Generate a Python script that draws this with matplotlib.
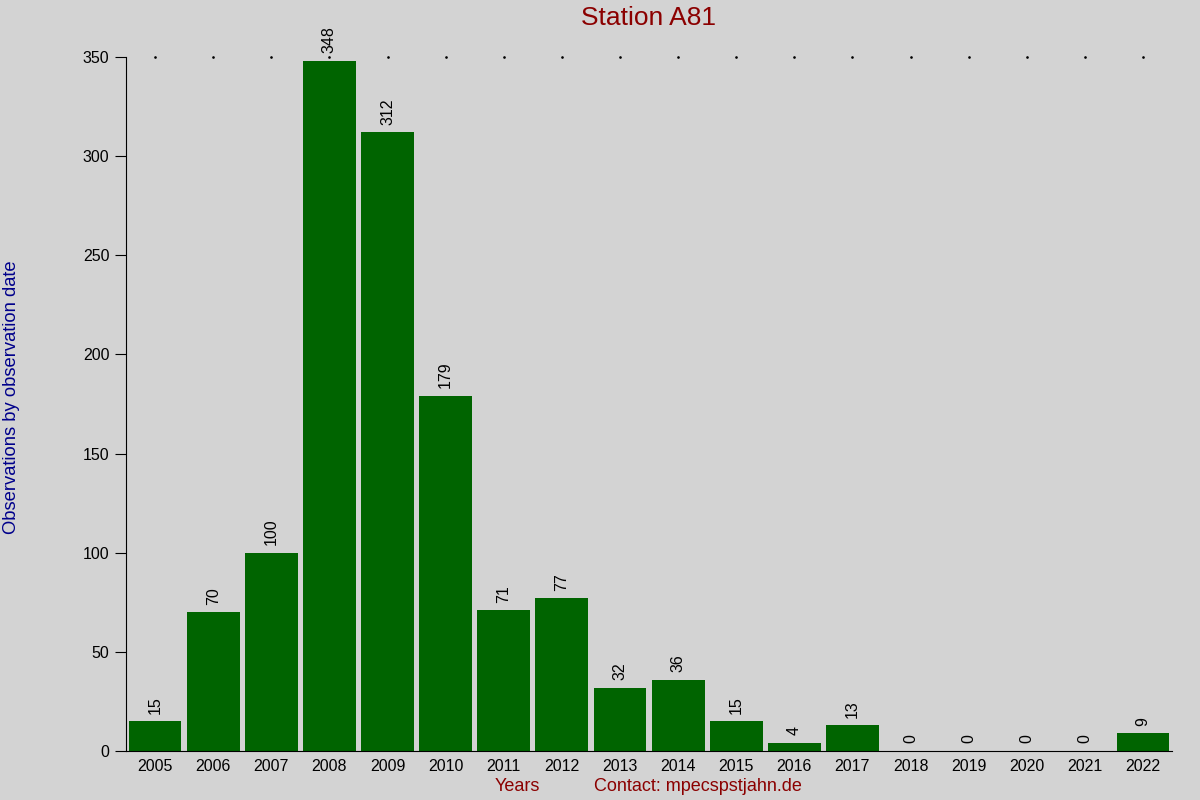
import matplotlib
matplotlib.use("Agg")
import matplotlib.pyplot as plt
import numpy as np

years = ["2005", "2006", "2007", "2008", "2009", "2010", "2011", "2012", "2013",
         "2014", "2015", "2016", "2017", "2018", "2019", "2020", "2021", "2022"]
counts = [15, 70, 100, 348, 312, 179, 71, 77, 32, 36, 15, 4, 13, 0, 0, 0, 0, 9]
y_ticks = [0, 50, 100, 150, 200, 250, 300, 350]

plt.rcParams['font.family'] = ['Liberation Sans', 'DejaVu Sans']

fig = plt.figure(figsize=(12, 8), dpi=100, facecolor='#d3d3d3')
ax = fig.add_axes([0.105, 0.06125, 0.8717, 0.8675])
ax.set_facecolor('#d3d3d3')

x = np.arange(len(years))
ax.bar(x, counts, width=0.91, color='#006400')

# value labels, rotated
for xi, v in zip(x, counts):
    ax.annotate(str(v), (xi, v), xytext=(0, 5.5), textcoords='offset points',
                rotation=90, ha='center', va='bottom', fontsize=11.5)

# little dots along the top
ax.scatter(x, [350] * len(x), s=0.8, color='black', clip_on=False, zorder=3)

ax.set_xlim(-0.5, len(years) - 0.5)
ax.set_ylim(0, 350)
ax.set_xticks(x)
ax.set_xticklabels(years, fontsize=11.5)
ax.set_yticks(y_ticks)
ax.tick_params(axis='y', labelsize=11.5, length=8, direction='out', pad=4)
ax.tick_params(axis='x', length=0, pad=6)

for s in ['top', 'right']:
    ax.spines[s].set_visible(False)

fig.text(0.5408, 0.977, "Station A81", color='#8b0000', fontsize=19,
         ha='center', va='center')
fig.text(0.431, 0.017, "Years", color='#8b0000', fontsize=13,
         ha='center', va='center')
fig.text(0.582, 0.017, "Contact: mpecspstjahn.de", color='#8b0000', fontsize=13,
         ha='center', va='center')
fig.text(0.0095, 0.503, "Observations by observation date", color='#00008b',
         fontsize=13.2, rotation=90, ha='center', va='center')

fig.savefig("out.png", dpi=100, facecolor=fig.get_facecolor())
